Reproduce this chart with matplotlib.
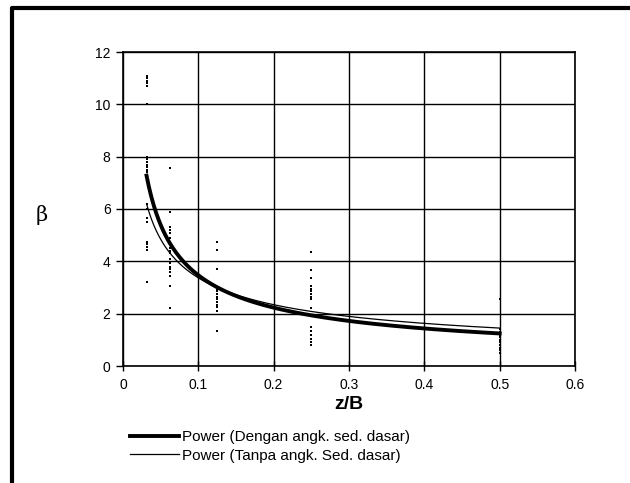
import matplotlib.pyplot as plt
import numpy as np
from matplotlib.lines import Line2D

# measured points (z/B, beta), grouped by z/B
z_groups = [1/32, 1/16, 1/8, 1/4, 1/2]
beta_groups = [
    [11.1, 11.0, 10.9, 10.8, 10.7, 10.0, 8.0, 7.9, 7.8, 7.7, 7.6, 7.5, 7.4,
     7.3, 7.2, 6.2, 6.0, 5.65, 5.5, 4.75, 4.65, 4.55, 4.45, 3.2],
    [7.55, 5.9, 5.3, 5.2, 5.1, 4.9, 4.7, 4.5, 4.4, 4.3, 4.1, 3.95, 3.8, 3.7,
     3.6, 3.45, 3.05, 2.2],
    [4.75, 4.45, 3.7, 2.95, 2.85, 2.75, 2.65, 2.55, 2.45, 2.35, 2.25, 2.1, 1.35],
    [4.35, 3.65, 3.35, 3.05, 2.95, 2.85, 2.75, 2.65, 2.55, 2.2, 1.5, 1.35,
     1.2, 1.05, 0.9, 0.8],
    [2.55, 1.4, 1.3, 1.2, 1.1, 1.0, 0.9, 0.8, 0.7, 0.6, 0.5],
]

# power trendlines beta = a * (z/B)^b, coefficients
fit_dengan = (0.80, -0.637)
fit_tanpa = (1.008, -0.524)
labels = ['Power (Dengan angk. sed. dasar)', 'Power (Tanpa angk. Sed. dasar)']

plt.rcParams['font.family'] = ['Liberation Sans', 'DejaVu Sans']

fig = plt.figure(figsize=(6.3, 4.83), dpi=100)
ax = fig.add_axes([123/630, 1 - 366/483, (575-123)/630, (366-52)/483])

xs, ys = [], []
for z, b in zip(z_groups, beta_groups):
    xs += [z] * len(b)
    ys += b
ax.plot(xs, ys, 's', color='black', markersize=2.15, markeredgewidth=0, zorder=3)

zz = np.linspace(z_groups[0], z_groups[-1], 300)
ax.plot(zz, fit_dengan[0] * zz ** fit_dengan[1], color='black', lw=2.8, label=labels[0], zorder=4)
ax.plot(zz, fit_tanpa[0] * zz ** fit_tanpa[1], color='black', lw=0.9, label=labels[1], zorder=5)

ax.set_xlim(0, 0.6)
ax.set_ylim(0, 12)
ax.set_xticks(np.arange(0, 0.61, 0.1))
ax.set_yticks(np.arange(0, 13, 2))
ax.set_xticklabels(['0', '0.1', '0.2', '0.3', '0.4', '0.5', '0.6'])
ax.grid(True, color='black', lw=1)
for s in ax.spines.values():
    s.set_linewidth(1.2)
ax.tick_params(axis='x', direction='inout', length=7, width=1, labelsize=10, pad=5)
ax.tick_params(axis='y', direction='out', length=5, width=1, labelsize=10, pad=4)

ax.set_xlabel('z/B', fontsize=14, fontweight='bold', labelpad=3)
fig.text(42/630, 1 - 215/483, 'β', family='DejaVu Serif', fontsize=15, ha='center', va='center')

fig.legend(loc='upper left', bbox_to_anchor=(130/630, 1 - 430/483), frameon=False,
           fontsize=11, handlelength=3.2, handletextpad=0.2, labelspacing=0.3,
           borderpad=0, borderaxespad=0)

# outer frame (left and top edges)
fig.add_artist(Line2D([12/630, 12/630, 1.0], [0, 1 - 8/483, 1 - 8/483],
                      transform=fig.transFigure, color='black', lw=3))

fig.savefig('out.png', dpi=100)
